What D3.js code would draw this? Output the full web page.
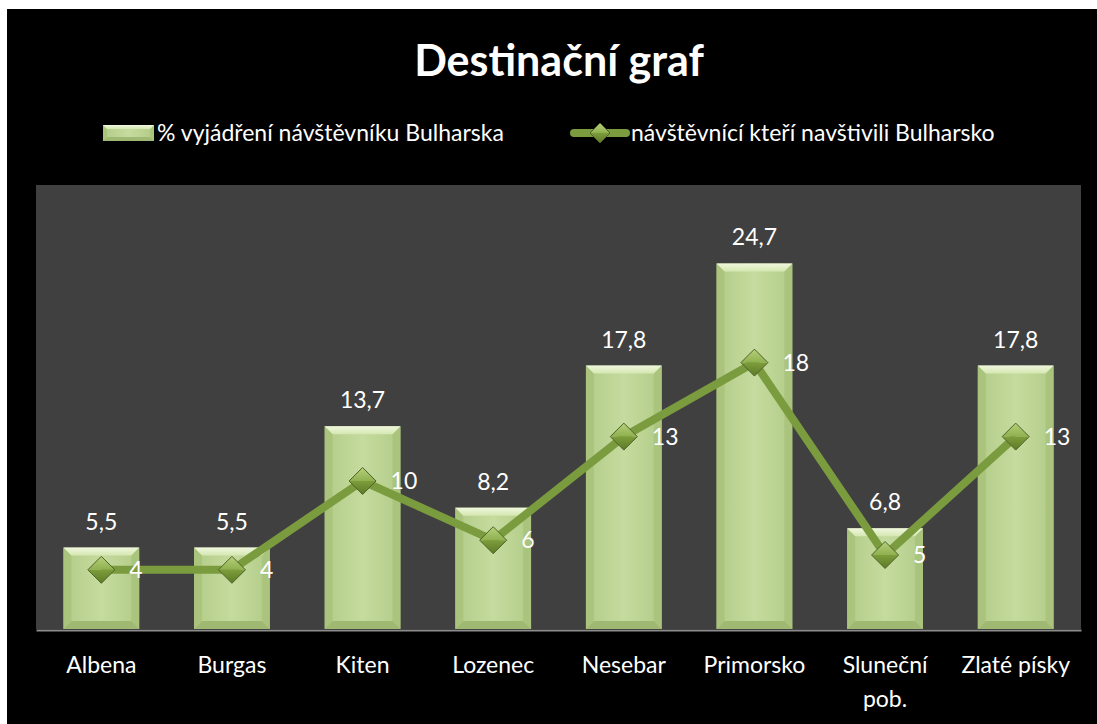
<!DOCTYPE html>
<html>
<head>
<meta charset="utf-8">
<script src="https://cdn.jsdelivr.net/npm/d3@7"></script>
<style>
  html, body { margin: 0; padding: 0; background: #fff; }
  svg { display: block; font-family: Lato, "Open Sans", sans-serif; }
</style>
</head>
<body>
<div id="chart"></div>
<script>
/* data */
var categories = ["Albena", "Burgas", "Kiten", "Lozenec", "Nesebar", "Primorsko", "Sluneční pob.", "Zlaté písky"];
var barValues = [5.5, 5.5, 13.7, 8.2, 17.8, 24.7, 6.8, 17.8];
var lineValues = [4, 4, 10, 6, 13, 18, 5, 13];
var seriesNames = ["% vyjádření návštěvníku Bulharska", "návštěvnící kteří navštivili Bulharsko"];
var chartTitle = "Destinační graf";

var width = 1097, height = 724;
var plot = { left: 36, right: 1081, top: 185, bottom: 629 };
var fontSize = 23;

var svg = d3.select("#chart").append("svg")
    .attr("width", width)
    .attr("height", height);

var defs = svg.append("defs");

// bar body gradient (slightly darker at the edges)
var gBar = defs.append("linearGradient").attr("id", "barGrad")
    .attr("x1", 0).attr("x2", 1).attr("y1", 0).attr("y2", 0);
gBar.append("stop").attr("offset", "0%").attr("stop-color", "#b3cc88");
gBar.append("stop").attr("offset", "50%").attr("stop-color", "#c5db9f");
gBar.append("stop").attr("offset", "100%").attr("stop-color", "#b3cc88");

var gTop = defs.append("linearGradient").attr("id", "topGrad")
    .attr("x1", 0).attr("x2", 0).attr("y1", 0).attr("y2", 1);
gTop.append("stop").attr("offset", "0%").attr("stop-color", "#f0f7de");
gTop.append("stop").attr("offset", "100%").attr("stop-color", "#d4e7b0");

var gDiaTop = defs.append("linearGradient").attr("id", "diaTop")
    .attr("x1", 0).attr("x2", 0).attr("y1", 0).attr("y2", 1);
gDiaTop.append("stop").attr("offset", "0%").attr("stop-color", "#b5d07a");
gDiaTop.append("stop").attr("offset", "100%").attr("stop-color", "#8fb04f");
var gDiaBot = defs.append("linearGradient").attr("id", "diaBot")
    .attr("x1", 0).attr("x2", 0).attr("y1", 0).attr("y2", 1);
gDiaBot.append("stop").attr("offset", "0%").attr("stop-color", "#7d9d3c");
gDiaBot.append("stop").attr("offset", "100%").attr("stop-color", "#5d7a26");

/* black chart background with a thin white margin top/left */
svg.append("rect").attr("x", 7).attr("y", 9)
    .attr("width", width - 7).attr("height", height - 9)
    .attr("fill", "#000");

svg.append("rect")
    .attr("x", plot.left).attr("y", plot.top)
    .attr("width", plot.right - plot.left).attr("height", plot.bottom - plot.top)
    .attr("fill", "#404040");

var x = d3.scaleBand()
    .domain(categories)
    .range([plot.left, plot.right])
    .paddingInner(0.42)
    .paddingOuter(0.21);

var y = d3.scaleLinear()
    .domain([0, 30])
    .range([plot.bottom, plot.top]);

function drawDiamond(g, cx, cy, r) {
    g.append("path")
        .attr("d", "M" + (cx - r) + "," + cy + "L" + cx + "," + (cy - r) + "L" + (cx + r) + "," + cy + "Z")
        .attr("fill", "url(#diaTop)");
    g.append("path")
        .attr("d", "M" + (cx - r) + "," + cy + "L" + cx + "," + (cy + r) + "L" + (cx + r) + "," + cy + "Z")
        .attr("fill", "url(#diaBot)");
    g.append("path")
        .attr("d", "M" + (cx - r) + "," + cy + "L" + cx + "," + (cy - r) + "L" + (cx + r) + "," + cy + "L" + cx + "," + (cy + r) + "Z")
        .attr("fill", "none").attr("stroke", "#4f6228").attr("stroke-width", 1);
}

function drawBar(g, bx, by, bw, bh, bevMax) {
    var bev = Math.min(bevMax, bh / 3);
    g.append("rect").attr("x", bx).attr("y", by).attr("width", bw).attr("height", bh)
        .attr("fill", "url(#barGrad)");
    // side bevels
    g.append("path")
        .attr("d", "M" + bx + "," + by + "L" + (bx + bev) + "," + (by + bev) + "L" + (bx + bev) + "," + (by + bh - bev) + "L" + bx + "," + (by + bh) + "Z")
        .attr("fill", "#a8c27b").attr("opacity", 0.8);
    g.append("path")
        .attr("d", "M" + (bx + bw) + "," + by + "L" + (bx + bw - bev) + "," + (by + bev) + "L" + (bx + bw - bev) + "," + (by + bh - bev) + "L" + (bx + bw) + "," + (by + bh) + "Z")
        .attr("fill", "#a8c27b").attr("opacity", 0.8);
    // top bevel
    g.append("path")
        .attr("d", "M" + bx + "," + by + "L" + (bx + bw) + "," + by + "L" + (bx + bw - bev) + "," + (by + bev) + "L" + (bx + bev) + "," + (by + bev) + "Z")
        .attr("fill", "url(#topGrad)");
    // bottom bevel
    g.append("path")
        .attr("d", "M" + bx + "," + (by + bh) + "L" + (bx + bw) + "," + (by + bh) + "L" + (bx + bw - bev) + "," + (by + bh - bev) + "L" + (bx + bev) + "," + (by + bh - bev) + "Z")
        .attr("fill", "#9fb972");
}

/* bars */
var bars = svg.append("g");
categories.forEach(function(c, i) {
    drawBar(bars.append("g"), x(c), y(barValues[i]), x.bandwidth(), y(0) - y(barValues[i]), 8);
});

/* axis */
var axis = svg.append("g")
    .attr("transform", "translate(0," + (plot.bottom + 1) + ")")
    .call(d3.axisBottom(x).tickSize(0).tickPadding(27));
axis.select(".domain").attr("stroke", "#8c8c8c").attr("stroke-width", 2);
axis.selectAll("text")
    .attr("fill", "#fff")
    .style("font-size", fontSize + "px")
    .style("font-family", "Lato, 'Open Sans', sans-serif")
    .each(function() {
        var t = d3.select(this), words = t.text().split(" ");
        if (this.getComputedTextLength() > x.step() - 12 && words.length > 1) {
            t.text(null);
            words.forEach(function(w, k) {
                t.append("tspan").attr("x", 0).attr("dy", k === 0 ? "0.71em" : "1.45em").text(w);
            });
        }
    });

/* line */
var line = d3.line()
    .x(function(d, i) { return x(categories[i]) + x.bandwidth() / 2; })
    .y(function(d) { return y(d); });

svg.append("path")
    .datum(lineValues)
    .attr("d", line)
    .attr("fill", "none")
    .attr("stroke", "#7b9c3e")
    .attr("stroke-width", 8)
    .attr("stroke-linejoin", "round");

var markers = svg.append("g");
lineValues.forEach(function(v, i) {
    drawDiamond(markers, x(categories[i]) + x.bandwidth() / 2, y(v), 13.5);
});

/* data labels */
function fmt(v) { return String(v).replace(".", ","); }

svg.append("g").selectAll("text")
    .data(barValues)
    .join("text")
    .attr("x", function(d, i) { return x(categories[i]) + x.bandwidth() / 2; })
    .attr("y", function(d) { return y(d) - 18; })
    .attr("text-anchor", "middle")
    .attr("fill", "#fff")
    .style("font-size", fontSize + "px")
    .text(fmt);

svg.append("g").selectAll("text")
    .data(lineValues)
    .join("text")
    .attr("x", function(d, i) { return x(categories[i]) + x.bandwidth() / 2 + 28; })
    .attr("y", function(d) { return y(d); })
    .attr("dy", "0.36em")
    .attr("fill", "#fff")
    .style("font-size", fontSize + "px")
    .text(fmt);

/* title */
svg.append("text")
    .attr("x", 559).attr("y", 76)
    .attr("text-anchor", "middle")
    .attr("fill", "#fff")
    .style("font-size", "43px")
    .style("font-weight", "bold")
    .text(chartTitle);

/* legend */
var leg = svg.append("g");
drawBar(leg, 103, 125, 51, 16, 4);
leg.append("text").attr("x", 157).attr("y", 133).attr("dy", "0.36em")
    .attr("fill", "#fff").style("font-size", fontSize + "px").text(seriesNames[0]);

leg.append("line").attr("x1", 574).attr("x2", 626).attr("y1", 133).attr("y2", 133)
    .attr("stroke", "#7b9c3e").attr("stroke-width", 8).attr("stroke-linecap", "round");
drawDiamond(leg, 600, 133, 10);
leg.append("text").attr("x", 631).attr("y", 133).attr("dy", "0.36em")
    .attr("fill", "#fff").style("font-size", fontSize + "px").text(seriesNames[1]);
</script>
</body>
</html>
